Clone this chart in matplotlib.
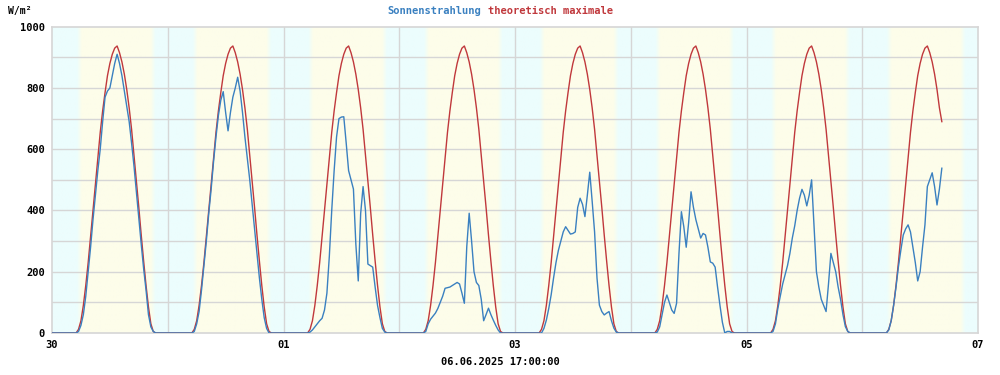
import numpy as np
import matplotlib
matplotlib.use("Agg")
import matplotlib.pyplot as plt

# ---------------- data (half-hour steps, W/m²) ----------------
day_labels = ["30", "", "01", "", "03", "", "05", "", "07"]
title_blue = "Sonnenstrahlung"
title_red = "theoretisch maximale"
ylabel = "W/m²"
stamp = "06.06.2025 17:00:00"

# theoretical maximum, one day profile (00:00 .. 23:30)
theo_day = [0, 0, 0, 0, 0, 0, 0, 0, 0, 0,
            0, 12, 40, 90, 155, 230, 315, 400, 485, 570,
            655, 725, 785, 840, 880, 910, 930, 937, 915, 885,
            845, 795, 735, 665, 580, 495, 410, 320, 235, 155,
            85, 30, 5, 0, 0, 0, 0, 0]

night = [0] * 10
sun_d1 = night + [0, 5, 25, 60, 120, 200, 280, 370, 450, 530,
                  600, 690, 770, 790, 800, 840, 880, 910, 880, 840,
                  790, 740, 690, 620, 545, 460, 375, 290, 210, 140,
                  60, 20, 5, 0, 0, 0, 0, 0]
sun_d2 = night + [0, 5, 30, 70, 140, 220, 300, 390, 470, 560,
                  640, 710, 760, 788, 720, 660, 720, 770, 800, 835,
                  790, 720, 640, 570, 500, 420, 340, 260, 180, 110,
                  50, 15, 0, 0, 0, 0, 0, 0]
sun_d3 = night + [0, 3, 10, 20, 30, 40, 48, 75, 130, 250,
                  400, 530, 640, 700, 705, 706, 620, 530, 500, 470,
                  290, 170, 390, 478, 400, 225, 220, 215, 150, 90,
                  50, 15, 3, 0, 0, 0, 0, 0]
sun_d4 = night + [0, 5, 30, 45, 55, 65, 80, 100, 120, 146,
                  148, 150, 155, 160, 165, 160, 130, 97, 282, 391,
                  300, 200, 165, 155, 110, 40, 60, 81, 60, 42,
                  25, 10, 0, 0, 0, 0, 0, 0]
sun_d5 = night + [0, 0, 15, 42, 80, 125, 180, 230, 270, 300,
                  330, 347, 335, 323, 325, 330, 410, 440, 420, 380,
                  450, 525, 430, 330, 180, 91, 70, 59, 65, 70,
                  40, 16, 3, 0, 0, 0, 0, 0]
sun_d6 = night + [0, 3, 20, 60, 100, 124, 100, 75, 64, 97,
                  260, 396, 347, 280, 360, 461, 410, 370, 340, 310,
                  325, 320, 280, 232, 228, 215, 150, 90, 35, 0,
                  5, 5, 0, 0, 0, 0, 0, 0]
sun_d7 = night + [0, 5, 30, 80, 120, 160, 190, 220, 260, 310,
                  350, 400, 440, 469, 450, 415, 450, 500, 347, 200,
                  150, 110, 90, 70, 160, 260, 230, 200, 150, 110,
                  60, 21, 5, 0, 0, 0, 0, 0]
sun_d8 = night + [0, 10, 40, 90, 150, 216, 270, 320, 340, 353,
                  330, 280, 230, 170, 200, 280, 353, 478, 500, 523,
                  478, 418, 470, 538]

sun = sun_d1 + sun_d2 + sun_d3 + sun_d4 + sun_d5 + sun_d6 + sun_d7 + sun_d8
theo = theo_day * 7 + theo_day[:len(sun_d8)]
theo[-1] = 690

sunrise_h = 5.65
sunset_h = 20.94

t_sun = np.arange(len(sun)) * 0.5
t_theo = np.arange(len(theo)) * 0.5

blue = "#3a80c0"
red = "#c0383c"
grid_c = "#d6d6d6"
cyan = np.array([236, 253, 253]) / 255
yellow = np.array([253, 253, 234]) / 255

plt.rcParams['font.family'] = ['DejaVu Sans Mono']
fig = plt.figure(figsize=(10, 3.75), dpi=100)
ax = fig.add_axes([0.052, 42 / 375, 0.926, (333 - 26.7) / 375])

# day/night background with soft transitions
hrs = np.linspace(0, 192, 1900)
hod = hrs % 24
w = 0.5
light = np.clip((hod - sunrise_h + w) / (2 * w), 0, 1) * np.clip((sunset_h + w - hod) / (2 * w), 0, 1)
cols = cyan[None, :] * (1 - light[:, None]) + yellow[None, :] * light[:, None]
ax.imshow(cols[None, :, :], aspect='auto', extent=[0, 192, 0, 1000], zorder=0, interpolation='bilinear')

for y in range(100, 1000, 100):
    ax.axhline(y, color=grid_c, lw=1.0, zorder=1)
for x in range(24, 192, 24):
    ax.axvline(x, color=grid_c, lw=1.0, zorder=1)

ax.plot(t_theo, theo, color=red, lw=1.0, zorder=3)
ax.plot(t_sun, sun, color=blue, lw=1.0, zorder=4)

ax.set_xlim(0, 192)
ax.set_ylim(0, 1000)
for s in ax.spines.values():
    s.set_color(grid_c)
    s.set_linewidth(1.2)

ax.set_xticks(np.arange(0, 193, 24))
ax.set_xticklabels(day_labels, fontsize=7.5, fontweight='bold')
ax.set_yticks(np.arange(0, 1001, 200))
ax.set_yticklabels([str(v) for v in range(0, 1001, 200)], fontsize=7.5, fontweight='bold')
ax.tick_params(length=0, pad=5)

fig.text(0.008, 0.983, ylabel, fontsize=7, fontweight='bold', ha='left', va='top')
fig.text(0.481, 0.983, title_blue, fontsize=7.5, fontweight='bold', color=blue, ha='right', va='top')
fig.text(0.488, 0.983, title_red, fontsize=7.5, fontweight='bold', color=red, ha='left', va='top')
fig.text(0.5, 0.022, stamp, fontsize=7.5, fontweight='bold', ha='center', va='bottom')

fig.savefig("out.png", dpi=100, facecolor="white")
